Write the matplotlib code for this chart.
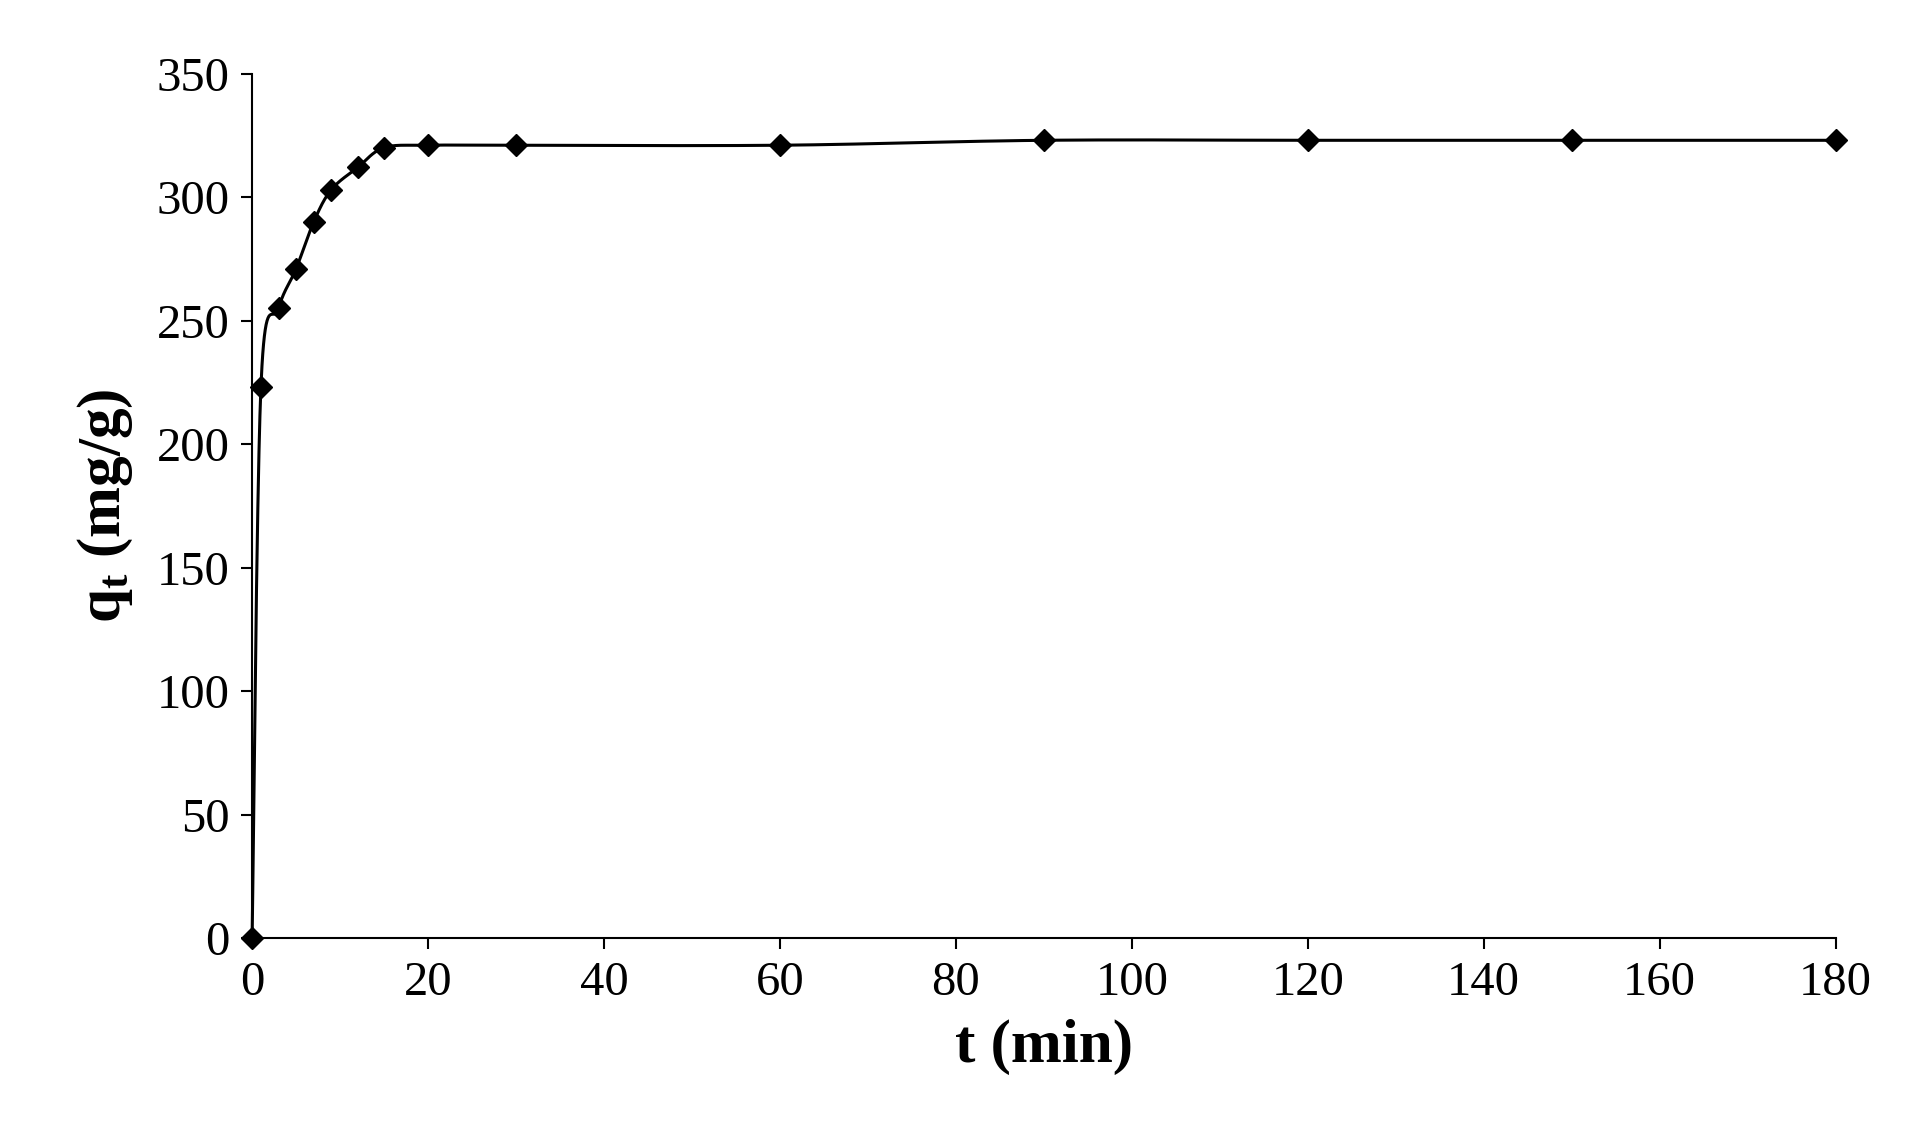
import numpy as np
import matplotlib
matplotlib.use("Agg")
import matplotlib.pyplot as plt

t = [0, 1, 3, 5, 7, 9, 12, 15, 20, 30, 60, 90, 120, 150, 180]
q = [0, 223, 255, 271, 290, 303, 312, 320, 321, 321, 321, 323, 323, 323, 323]
xticks = list(range(0, 181, 20))
yticks = list(range(0, 351, 50))

plt.rcParams['font.family'] = ['Liberation Serif']
plt.rcParams['mathtext.fontset'] = 'custom'
plt.rcParams['mathtext.rm'] = 'Liberation Serif'
plt.rcParams['mathtext.bf'] = 'Liberation Serif:bold'
plt.rcParams['mathtext.it'] = 'Liberation Serif:italic'
fig = plt.figure(figsize=(19.10, 11.32), dpi=100)
ax = fig.add_axes([0.132, 0.171, 0.829, 0.764])

# Catmull-Rom smoothing (like Excel smoothed line)
x = np.array(t, float); y = np.array(q, float)
xs, ys = [], []
for i in range(len(x) - 1):
    p0 = i - 1 if i > 0 else i
    p3 = i + 2 if i + 2 < len(x) else i + 1
    s = np.linspace(0, 1, 40)
    for arr, out in ((x, xs), (y, ys)):
        P0, P1, P2, P3 = arr[p0], arr[i], arr[i + 1], arr[p3]
        m1 = (P2 - P0) / 6
        m2 = (P3 - P1) / 6
        c1 = P1 + m1; c2 = P2 - m2
        out.extend((1-s)**3*P1 + 3*(1-s)**2*s*c1 + 3*(1-s)*s**2*c2 + s**3*P2)
ax.plot(xs, ys, color='black', lw=2.2, clip_on=False)
ax.plot(t, q, linestyle='none', marker='D', color='black', markersize=11, clip_on=False, zorder=5)

ax.set_xlim(0, 180); ax.set_ylim(0, 350)
ax.set_xticks(xticks); ax.set_yticks(yticks)
ax.spines['top'].set_visible(False); ax.spines['right'].set_visible(False)
for s in ('left', 'bottom'):
    ax.spines[s].set_linewidth(1.5)
ax.tick_params(direction='out', length=8, width=1.5, labelsize=35, pad=8)
ax.set_xlabel('t (min)', fontsize=44, fontweight='bold', labelpad=10)
ax.set_ylabel(r'$\mathbf{q_t}$ (mg/g)', fontsize=44, fontweight='bold', labelpad=16)
fig.savefig('out.png', dpi=100)
